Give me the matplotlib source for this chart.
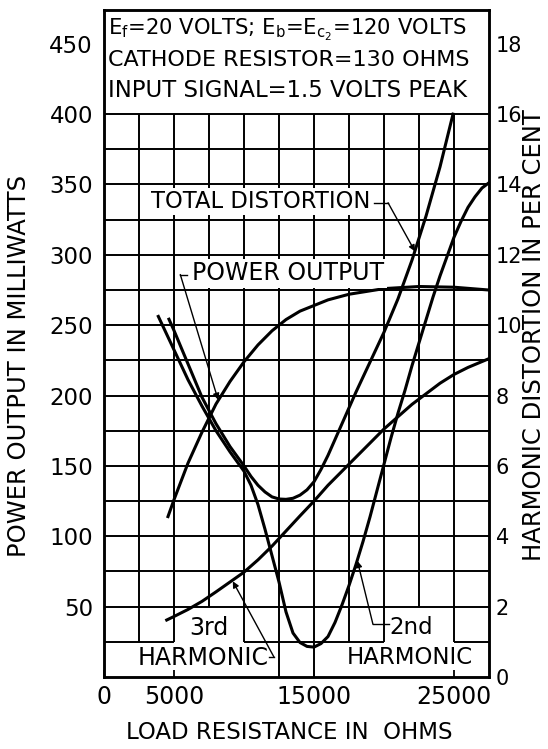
import matplotlib
matplotlib.use("Agg")
import matplotlib.pyplot as plt
from matplotlib import font_manager as fm
import numpy as np

# ---------------- data ----------------
power_x = [4570, 5000, 6000, 7000, 8000, 9000, 10000, 11000, 12000, 13000,
           14000, 15000, 16000, 17500, 20000, 22500, 25000, 27500]
power_mw = [114, 126, 152, 174, 194, 210, 224, 236, 246, 254,
            260, 264, 268, 272, 276, 277.5, 277, 275]

total_x = [4640, 5000, 6000, 7000, 8000, 9000, 10000, 10500, 11000, 11500,
           12000, 12500, 13000, 13500, 14000, 14500, 15000, 15500, 16000,
           16500, 17000, 17500, 18000, 19000, 20000, 21000, 22000, 23000,
           24000, 24930]
total_pct = [10.17, 9.85, 8.9, 7.95, 7.2, 6.55, 6.0, 5.7, 5.45, 5.26,
             5.12, 5.06, 5.05, 5.08, 5.17, 5.32, 5.55, 5.9, 6.3,
             6.75, 7.2, 7.65, 8.1, 8.95, 9.8, 10.75, 11.85, 13.1,
             14.5, 16.0]

second_x = [3880, 5000, 6000, 7000, 8000, 9000, 10000, 10500, 11000, 11500,
            12000, 12500, 13000, 13500, 14000, 14500, 15000, 15500, 16000,
            16500, 17000, 17500, 18000, 18500, 19000, 19500, 20000, 20500,
            21000, 21500, 22000, 22500, 23000, 23500, 24000, 24500, 25000,
            25500, 26000, 26500, 27000, 27500]
second_pct = [10.25, 9.3, 8.45, 7.7, 7.0, 6.4, 5.85, 5.45, 4.9, 4.2,
              3.45, 2.7, 1.85, 1.25, 0.98, 0.87, 0.85, 0.95, 1.15,
              1.55, 2.05, 2.6, 3.2, 3.85, 4.55, 5.3, 6.05, 6.8,
              7.5, 8.15, 8.85, 9.5, 10.15, 10.8, 11.4, 11.95, 12.5,
              12.95, 13.35, 13.65, 13.9, 14.05]

third_x = [4480, 5000, 6000, 7000, 8000, 9000, 10000, 11000, 12000, 13000,
           14000, 15000, 16000, 17000, 18000, 19000, 20000, 21000, 22000,
           23000, 24000, 25000, 26000, 27500]
third_pct = [1.62, 1.72, 1.92, 2.15, 2.42, 2.7, 2.98, 3.33, 3.72, 4.15,
             4.58, 5.0, 5.45, 5.85, 6.25, 6.65, 7.05, 7.4, 7.75,
             8.05, 8.35, 8.6, 8.8, 9.05]

x_ticks = [0, 5000, 15000, 25000]
x_ticklabels = ["0", "5000", "15000", "25000"]
left_ticks = [50, 100, 150, 200, 250, 300, 350, 400, 450]
right_ticks = [0, 2, 4, 6, 8, 10, 12, 14, 16, 18]

info_lines = [r"E$_\mathregular{f}$=20 VOLTS; E$_\mathregular{b}$=E$_{\mathregular{c}_\mathregular{2}}$=120 VOLTS",
              "CATHODE RESISTOR=130 OHMS",
              "INPUT SIGNAL=1.5 VOLTS PEAK"]

# ---------------- layout ----------------
X_MAX = 27500
Y_MAX = 474          # mW at top of frame
PCT_PER_MW = 1 / 25  # right scale: 1 % = 25 mW

GRID_LW = 1.4
CURVE_LW = 2.2

fig = plt.figure(figsize=(5.48, 7.49), dpi=100)
ax = fig.add_axes([104 / 548, 72 / 749, 385 / 548, 667 / 749])
ax.set_xlim(0, X_MAX)
ax.set_ylim(0, Y_MAX)
ax2 = ax.twinx()
ax2.set_ylim(0, Y_MAX * PCT_PER_MW)

for a in (ax, ax2):
    for s in a.spines.values():
        s.set_linewidth(1.8)

# grid (drawn as segments so the label boxes at the bottom stay open)
for lvl in range(50, 401, 25):
    ax.hlines(lvl, 0, X_MAX, color="k", lw=GRID_LW, zorder=1)
for x0, x1 in [(0, 5000), (10000, 20000), (25000, X_MAX)]:
    ax.hlines(25, x0, x1, color="k", lw=GRID_LW, zorder=1)
v_bottom = {7500: 50, 22500: 50, 12500: 0, 15000: 0}
for xv in range(2500, 25001, 2500):
    ax.vlines(xv, v_bottom.get(xv, 25), 400, color="k", lw=GRID_LW, zorder=1)

# curves
ax.plot(power_x, power_mw, color="k", lw=CURVE_LW, zorder=3)
ax2.plot(total_x, total_pct, color="k", lw=CURVE_LW, zorder=3)
ax2.plot(second_x, second_pct, color="k", lw=CURVE_LW, zorder=3)
ax2.plot(third_x, third_pct, color="k", lw=CURVE_LW, zorder=3)

# ticks
ax.set_xticks(x_ticks, x_ticklabels)
ax.tick_params(axis="x", direction="in", length=5, width=1.3, pad=6, labelsize=17)
ax.set_yticks(left_ticks)
ax.tick_params(axis="y", length=0, pad=8, labelsize=16.5)
ax2.set_yticks(right_ticks)
ax2.tick_params(axis="y", length=0, pad=5, labelsize=15)

# axis titles
ax.set_xlabel("LOAD RESISTANCE IN  OHMS", fontsize=16.5)
ax.xaxis.set_label_coords(0.481, -0.0825)
ax.xaxis.label.set_va("center")
ax.set_ylabel("POWER OUTPUT IN MILLIWATTS", fontsize=17.5)
ax.yaxis.set_label_coords(-0.221, 0.466)
ax.yaxis.label.set_va("center")
ax2.set_ylabel("HARMONIC DISTORTION IN PER CENT", fontsize=17.5, rotation=90)
ax2.yaxis.set_label_coords(1.116, 0.513)
ax2.yaxis.label.set_va("center")

# info box text
try:
    fm.findfont(fm.FontProperties(family="Liberation Sans Narrow"), fallback_to_default=False)
    box_family, box_sizes = "Liberation Sans Narrow", [20, 20, 20]
except Exception:
    box_family, box_sizes = "DejaVu Sans", [15.2, 16, 16.4]
for txt, ybase, fs in zip(info_lines, [456, 434.5, 412.5], box_sizes):
    ax.text(290, ybase, txt, fontsize=fs, family=box_family,
            ha="left", va="baseline", zorder=5)

# curve labels
white = dict(boxstyle="square,pad=0.1", fc="white", ec="none")
ax.text(11210, 338, "TOTAL DISTORTION", fontsize=16.3, ha="center", va="center",
        bbox=white, zorder=4)
ax.text(13180, 287, "POWER OUTPUT", fontsize=17, ha="center", va="center",
        bbox=white, zorder=4)
ax.text(7070, 13.5, "HARMONIC", fontsize=17, ha="center", va="center", zorder=4)
ax.text(21860, 14, "HARMONIC", fontsize=16.5, ha="center", va="center", zorder=4)
ax.text(7500, 35, "3rd", fontsize=17, ha="center", va="center", zorder=4)
ax.text(21930, 35, "2nd", fontsize=16.5, ha="center", va="center", zorder=4)

arrow = dict(arrowstyle="-|>", lw=1.0, color="k", shrinkA=0, shrinkB=0,
             mutation_scale=9)
LEAD_LW = 1.0
# total distortion leader (right scale)
ax2.plot([19300, 20290], [13.48, 13.48], color="k", lw=LEAD_LW, zorder=4)
ax2.annotate("", xy=(22210, 12.1), xytext=(20290, 13.48), arrowprops=arrow, zorder=4)
# power output leader (left scale)
ax.plot([5450, 5900], [286, 286], color="k", lw=LEAD_LW, zorder=4)
ax.annotate("", xy=(8150, 197), xytext=(5450, 286), arrowprops=arrow, zorder=4)
# 3rd harmonic leader
ax2.plot([11750, 12150], [0.56, 0.56], color="k", lw=LEAD_LW, zorder=4)
ax2.annotate("", xy=(9200, 2.72), xytext=(12150, 0.56), arrowprops=arrow, zorder=4)
# 2nd harmonic leader
ax2.plot([19210, 20350], [1.5, 1.5], color="k", lw=LEAD_LW, zorder=4)
ax2.annotate("", xy=(18100, 3.3), xytext=(19210, 1.5), arrowprops=arrow, zorder=4)

fig.savefig("out.png", dpi=100)
